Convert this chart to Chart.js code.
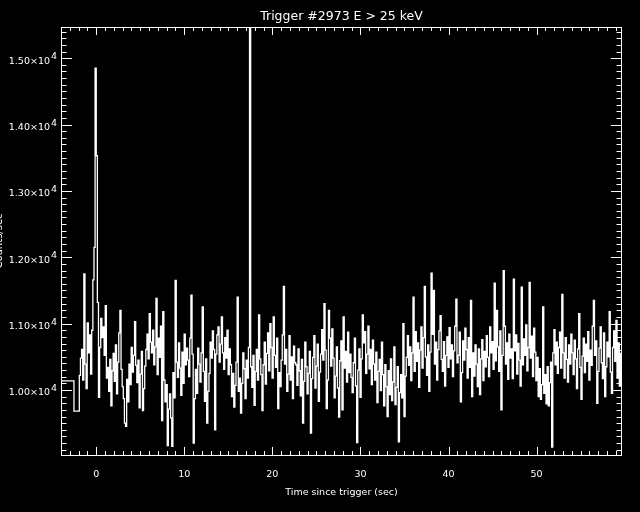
<!DOCTYPE html>
<html>
<head>
<meta charset="utf-8">
<script src="https://cdn.jsdelivr.net/npm/chart.js@4.4.1/dist/chart.umd.min.js"></script>
<style>
  html, body { margin: 0; padding: 0; background: #000; }
  canvas { display: block; }
</style>
</head>
<body>
<canvas id="chart" width="640" height="512"></canvas>
<script>
// Coarse pre-trigger bins (start time in sec, counts)
const preStarts = [-4.0, -2.53];
const preCounts = [10136, 9680];

// Fine bins: start time and width in sec
const binStart = -1.92;
const binWidth = 0.128;
const counts = [
  10220, 10480, 10610, 10150, 11750, 10390, 10020, 11010, 10560, 10830, 10240, 10900,
  11660, 12150, 14850, 13530, 11320, 9890, 10640, 11080, 10790, 10950, 10520, 11270,
  10180, 10340, 9980, 10460, 9760, 10290, 10550, 10130, 10680, 9940, 10420, 10860,
  11200, 10310, 10050, 9870, 9500, 9450, 10160, 9820, 10390, 10080, 10640, 10270,
  10520, 11030, 10370, 10110, 10450, 9730, 10240, 10580, 9690, 10020, 10360, 10610,
  10840, 10470, 11150, 10720, 10560, 10900, 10380, 10650, 11380, 10230, 10780, 10490,
  10960, 9540, 11180, 10150, 9820, 10080, 9160, 9710, 9940, 9580, 9150, 10260,
  9880, 11650, 10420, 10190, 10710, 10330, 9920, 10570, 10100, 10840, 10380, 10630,
  10450, 10200, 10780, 11430, 10540, 9200, 9870, 10310, 9950, 10630, 10390, 10120,
  10560, 11250, 10280, 9830, 10470, 9500, 9980, 10250, 10720, 10480, 10890, 10610,
  9400, 10540, 10830, 10950, 10420, 10690, 11100, 10560, 10310, 10790, 10480, 10900,
  10230, 10620, 10380, 9900, 10250, 9740, 10070, 10420, 11400, 9980, 10180, 9650,
  10100, 10560, 10320, 9870, 10450, 10180, 10640, 16500, 10350, 10040, 10520, 9770,
  10280, 10610, 10150, 11130, 10470, 10230, 9690, 10380, 10720, 10090, 10550, 10860,
  10290, 11000, 10640, 10180, 11100, 10520, 10340, 10780, 9720, 10260, 10050, 10450,
  10830, 11560, 10390, 10610, 9980, 10240, 10820, 10150, 10500, 9870, 10660, 10410,
  10380, 10070, 10620, 10290, 9910, 10460, 9500, 10130, 10720, 10350, 9940, 10250,
  10580, 9350, 10170, 10490, 10820, 10030, 10360, 10690, 9830, 10270, 10540, 10910,
  10450, 11300, 10600, 9720, 10150, 11200, 10780, 10360, 10920, 10480, 9880, 10210,
  10650, 10030, 9590, 10440, 10740, 9700, 11100, 10330, 10580, 10120, 10870, 10260,
  10540, 10190, 9960, 10410, 10780, 10060, 9205, 10300, 10620, 9890, 10470, 11130,
  10710, 10880, 10250, 10540, 10960, 10320, 10610, 10080, 10750, 10390, 10150, 10570,
  9810, 10280, 10460, 9990, 10720, 10230, 9760, 10380, 10050, 9600, 10290, 9930,
  10470, 9840, 10120, 10650, 9780, 10040, 10350, 9220, 9960, 10230, 9880, 11000,
  9600, 10210, 10490, 10820, 10370, 10650, 10140, 10560, 11400, 10280, 10880, 10430,
  10710, 10040, 10600, 10950, 10330, 10790, 11560, 10500, 10220, 10680, 9980, 10570,
  11760, 10840, 11500, 10390, 10720, 10150, 10610, 10890, 11120, 10460, 10280, 10730,
  10060, 10520, 10800, 10340, 10940, 10470, 10680, 10200, 10590, 10960, 11370, 10410,
  10520, 10870, 9820, 10260, 10740, 10450, 10930, 10610, 10180, 10790, 10340, 11350,
  9900, 10560, 10210, 10680, 10390, 10050, 10620, 9930, 10470, 10760, 10140, 10580,
  10350, 10820, 10490, 10200, 10950, 10560, 10730, 10310, 11610, 10440, 11200, 10650,
  10280, 10890, 9700, 10520, 11800, 10960, 10390, 10710, 10160, 10840, 10480, 10620,
  10170, 11670, 10590, 10830, 10240, 10700, 10450, 10060, 11550, 10380, 10770, 10520,
  10980, 10290, 10640, 11620, 10480, 10810, 10200, 10930, 10570, 10140, 10490, 9900,
  10320, 9860, 10080, 11250, 9950, 10230, 9790, 10350, 9760, 10110, 10420, 9140,
  10560, 10910, 10380, 10720, 10250, 10640, 10870, 10330, 11440, 10560, 10180, 10790,
  10460, 10120, 10680, 10390, 10840, 10560, 10230, 10750, 10470, 10020, 10620, 11150,
  10340, 9860, 10510, 10780, 10260, 10690, 10430, 10880, 10150, 10600, 10370, 10960,
  11350, 10520, 10740, 9800, 10280, 10630, 10950, 10410, 10170, 10860, 9900, 10350,
  10720, 10500, 11180, 10270, 9950, 10640, 10890, 10430, 11050, 10180, 10710, 10060,
  10550
];

// Axis ranges and tick labels
const xMin = -4, xMax = 59.7;
const yMin = 9020, yMax = 15470;
const xMajorTicks = [0, 10, 20, 30, 40, 50];
const xTickLabels = ['0', '10', '20', '30', '40', '50'];
const yMajorTicks = [10000, 11000, 12000, 13000, 14000, 15000];
const yTickLabels = ['1.00×10', '1.10×10', '1.20×10', '1.30×10', '1.40×10', '1.50×10'];
const yTickExp = '4';
const xMinorStep = 1;
const yMinorStep = 100;

const titleText = 'Trigger #2973 E > 25 keV';
const xTitle = 'Time since trigger (sec)';
const yTitle = 'Counts/sec';

// build histogram points (value held until next bin start)
const points = [];
preStarts.forEach((t, i) => points.push({ x: t, y: preCounts[i] }));
counts.forEach((c, i) => points.push({ x: binStart + i * binWidth, y: c }));
points.push({ x: binStart + counts.length * binWidth, y: counts[counts.length - 1] });

const FONT = '"DejaVu Sans", sans-serif';

// IDL style frame: box, inward ticks, labels
const framePlugin = {
  id: 'frame',
  beforeDraw(chart) {
    const ctx = chart.ctx;
    ctx.save();
    ctx.fillStyle = '#000';
    ctx.fillRect(0, 0, chart.width, chart.height);
    ctx.restore();
  },
  afterDraw(chart) {
    const ctx = chart.ctx;
    const area = chart.chartArea;
    const xs = chart.scales.x;
    const ys = chart.scales.y;
    ctx.save();
    ctx.strokeStyle = '#fff';
    ctx.fillStyle = '#fff';
    ctx.lineWidth = 1;

    // box
    ctx.strokeRect(Math.round(area.left) + 0.5, Math.round(area.top) + 0.5,
      Math.round(area.right - area.left) - 1, Math.round(area.bottom - area.top));

    ctx.beginPath();
    // x ticks, bottom and top
    for (let v = Math.ceil(xMin); v <= xMax; v += xMinorStep) {
      const px = Math.round(xs.getPixelForValue(v)) + 0.5;
      const len = xMajorTicks.includes(v) ? 8 : 4;
      ctx.moveTo(px, area.bottom);
      ctx.lineTo(px, area.bottom - len);
      ctx.moveTo(px, area.top);
      ctx.lineTo(px, area.top + len);
    }
    // y ticks, left and right
    for (let v = Math.ceil(yMin / yMinorStep) * yMinorStep; v <= yMax; v += yMinorStep) {
      const py = Math.round(ys.getPixelForValue(v)) + 0.5;
      const len = yMajorTicks.includes(v) ? 11 : 5.5;
      ctx.moveTo(area.left, py);
      ctx.lineTo(area.left + len, py);
      ctx.moveTo(area.right, py);
      ctx.lineTo(area.right - len, py);
    }
    ctx.stroke();

    // x tick labels
    ctx.font = '9.5px ' + FONT;
    ctx.textAlign = 'center';
    ctx.textBaseline = 'alphabetic';
    xMajorTicks.forEach((v, i) => {
      ctx.fillText(xTickLabels[i], xs.getPixelForValue(v), area.bottom + 22);
    });

    // y tick labels with raised exponent
    yMajorTicks.forEach((v, i) => {
      const py = ys.getPixelForValue(v);
      ctx.font = '9.5px ' + FONT;
      ctx.textAlign = 'right';
      ctx.fillText(yTickLabels[i], area.left - 11, py + 5.5);
      ctx.textAlign = 'left';
      ctx.fillText(yTickExp, area.left - 10, py + 1);
    });

    // titles
    const cx = (area.left + area.right) / 2;
    ctx.textAlign = 'center';
    ctx.font = '12.5px ' + FONT;
    ctx.fillText(titleText, cx, 20);
    ctx.font = '9.5px ' + FONT;
    ctx.fillText(xTitle, cx, area.bottom + 40);

    ctx.translate(2, (area.top + area.bottom) / 2);
    ctx.rotate(-Math.PI / 2);
    ctx.font = '10px ' + FONT;
    ctx.fillText(yTitle, 0, 0);
    ctx.restore();
  }
};

new Chart(document.getElementById('chart'), {
  type: 'line',
  data: {
    datasets: [{
      data: points,
      borderColor: '#fff',
      borderWidth: 1.3,
      pointRadius: 0,
      stepped: 'before',
      fill: false
    }]
  },
  options: {
    responsive: false,
    animation: false,
    events: [],
    layout: { padding: { left: 61, right: 18, top: 27, bottom: 57 } },
    plugins: {
      legend: { display: false },
      title: { display: false },
      tooltip: { enabled: false }
    },
    scales: {
      x: { type: 'linear', min: xMin, max: xMax, display: false },
      y: { type: 'linear', min: yMin, max: yMax, display: false }
    }
  },
  plugins: [framePlugin]
});
</script>
</body>
</html>
